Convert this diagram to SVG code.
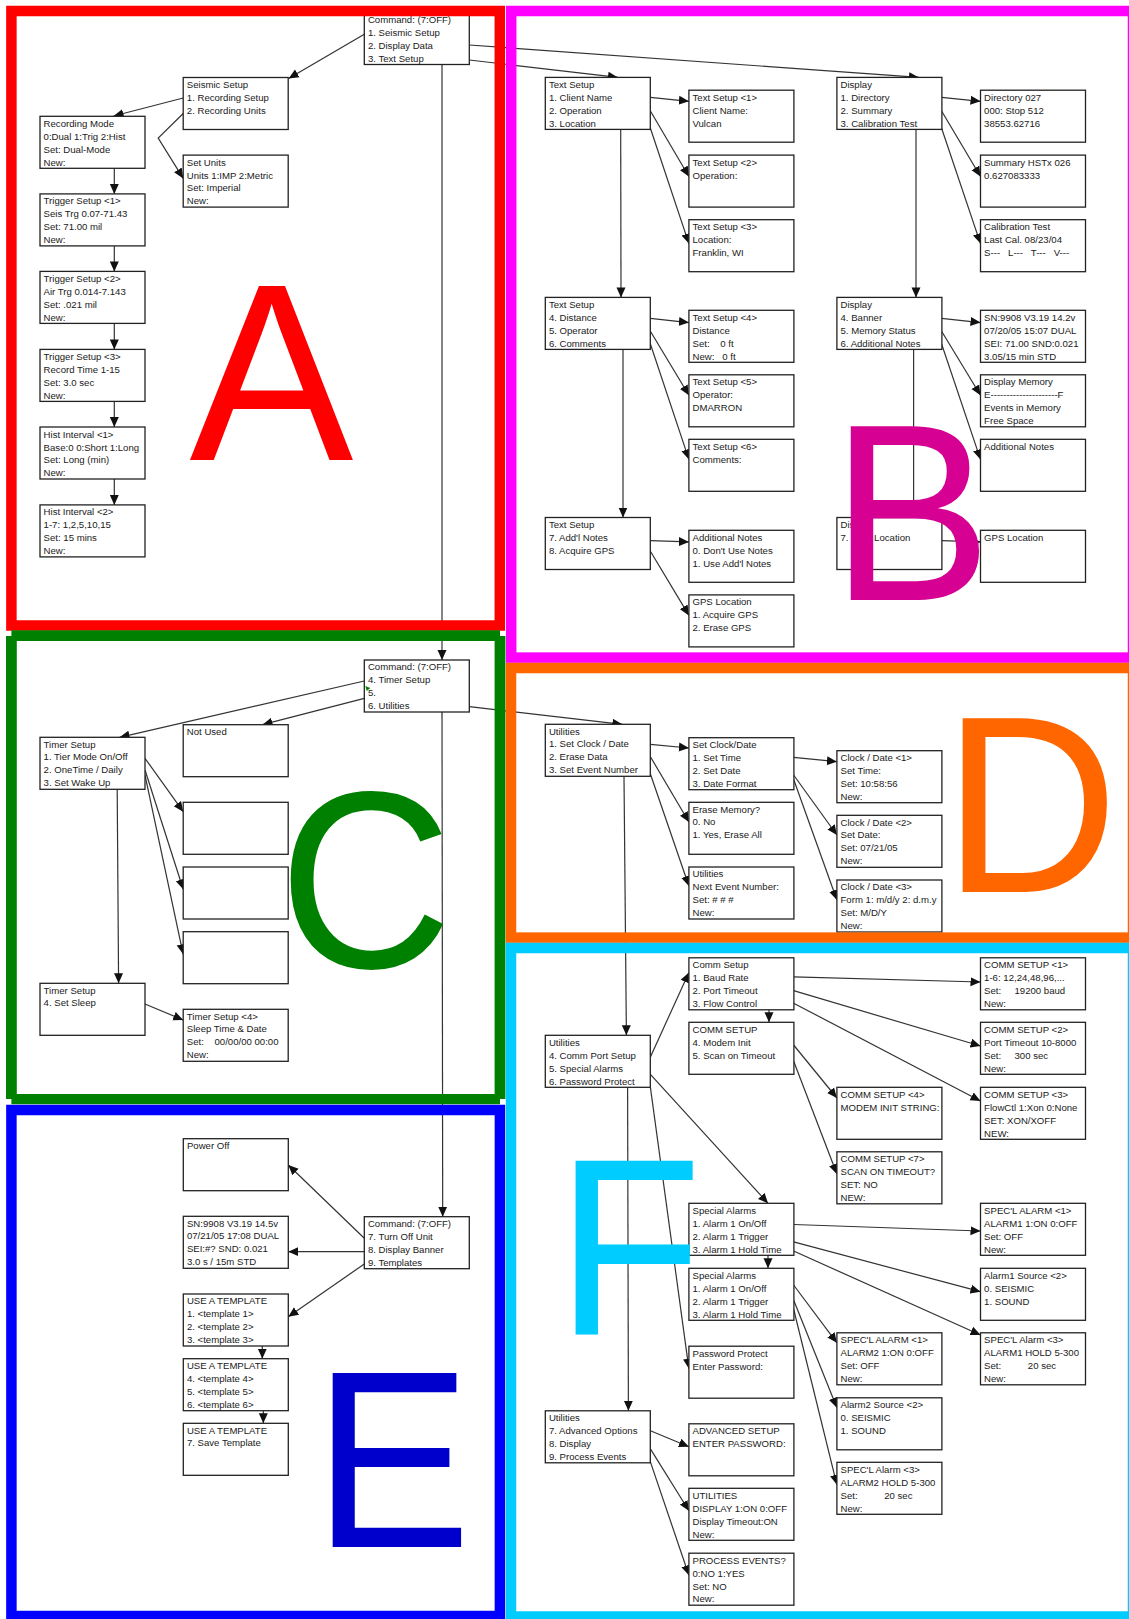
<svg xmlns="http://www.w3.org/2000/svg" width="1129" height="1619" viewBox="0 0 1129 1619">
<style>
text{font-family:"Liberation Sans",Arial,sans-serif}
.n rect{fill:#fff;stroke:#222;stroke-width:1.3}
.n text{font-size:9.6px;fill:#1a1a1a;white-space:pre}
#connectors line,#connectors polyline{fill:none;stroke:#333;stroke-width:1.2;marker-end:url(#a)}
.f{fill:none;stroke-width:10.5}
.l{font-size:252px}
</style>
<defs>
<marker id="a" markerUnits="userSpaceOnUse" markerWidth="11" markerHeight="10" refX="10" refY="5" orient="auto"><path d="M0 0.500L10 5L0 9.500z" fill="#111"/></marker>
</defs>
<rect width="1129" height="1619" fill="#fff"/>
<g id="connectors">
<line x1="364.3" y1="34.3" x2="288.6" y2="78.4"/>
<line x1="183.2" y1="98" x2="113.6" y2="116"/>
<polyline points="183.2,113.5 158.2,138 183.2,178.4"/>
<line x1="114.3" y1="168.2" x2="114.3" y2="193.9"/>
<line x1="114.3" y1="246" x2="114.3" y2="271.4"/>
<line x1="114.3" y1="323.7" x2="114.3" y2="349.4"/>
<line x1="114.3" y1="401.5" x2="114.3" y2="427"/>
<line x1="114.3" y1="479" x2="114.3" y2="504.9"/>
<line x1="442" y1="64.5" x2="442" y2="660"/>
<line x1="469.3" y1="60" x2="618" y2="77.4"/>
<line x1="469.3" y1="45" x2="919" y2="77.4"/>
<line x1="650.4" y1="97.4" x2="688.9" y2="101.3"/>
<line x1="650.4" y1="111" x2="688.9" y2="176.5"/>
<line x1="650.4" y1="128.2" x2="688.9" y2="243.6"/>
<line x1="941.6" y1="97.4" x2="980.5" y2="101.3"/>
<line x1="941.6" y1="111" x2="980.5" y2="176.5"/>
<line x1="941.6" y1="128.2" x2="980.5" y2="243.6"/>
<line x1="620.7" y1="129.5" x2="621" y2="297.4"/>
<line x1="916" y1="129.5" x2="916" y2="297.4"/>
<line x1="650.4" y1="318.4" x2="688.9" y2="322.6"/>
<line x1="650.4" y1="331.2" x2="688.9" y2="395.3"/>
<line x1="650.4" y1="344" x2="688.9" y2="459.4"/>
<line x1="941.6" y1="318.4" x2="980.5" y2="322.6"/>
<line x1="941.6" y1="331.2" x2="980.5" y2="395.3"/>
<line x1="941.6" y1="344" x2="980.5" y2="459.4"/>
<line x1="623" y1="349.6" x2="623" y2="517.5"/>
<line x1="913.6" y1="349.6" x2="913.6" y2="517.5"/>
<line x1="650.4" y1="540.6" x2="688.9" y2="541.9"/>
<line x1="650.4" y1="551.3" x2="688.9" y2="615.4"/>
<line x1="941.6" y1="540.6" x2="980.5" y2="541.9"/>
<line x1="364.3" y1="681" x2="119.6" y2="737.3"/>
<line x1="364.3" y1="698.3" x2="262.5" y2="724.7"/>
<line x1="145" y1="758.3" x2="183.2" y2="811.7"/>
<line x1="145" y1="770" x2="183.2" y2="889.3"/>
<line x1="145" y1="775" x2="183.2" y2="954.3"/>
<line x1="117.2" y1="789.3" x2="118.6" y2="983.3"/>
<line x1="145" y1="1004" x2="183.2" y2="1020"/>
<line x1="469.3" y1="706.7" x2="622.3" y2="724.3"/>
<line x1="442" y1="711.7" x2="442.7" y2="1216.7"/>
<line x1="364.3" y1="1238.3" x2="288.3" y2="1165"/>
<line x1="364.3" y1="1251.7" x2="288.3" y2="1251.7"/>
<line x1="364.3" y1="1264" x2="288.3" y2="1316.7"/>
<line x1="262.3" y1="1346" x2="262.3" y2="1358.7"/>
<line x1="263.3" y1="1410.7" x2="263.3" y2="1423.3"/>
<line x1="650.4" y1="744.3" x2="688.9" y2="748"/>
<line x1="650.4" y1="756.7" x2="688.9" y2="822"/>
<line x1="650.4" y1="774" x2="688.9" y2="886"/>
<line x1="793.6" y1="757.3" x2="836.9" y2="761.7"/>
<line x1="793.6" y1="775" x2="836.9" y2="835"/>
<line x1="793.6" y1="779.3" x2="836.9" y2="900"/>
<line x1="624" y1="776.7" x2="626.4" y2="1035.3"/>
<line x1="650.4" y1="1057" x2="688.9" y2="972.5"/>
<line x1="650.4" y1="1074.3" x2="768" y2="1203.3"/>
<line x1="650.4" y1="1087.3" x2="688.9" y2="1368.8"/>
<line x1="627.6" y1="1087.3" x2="628.4" y2="1410.8"/>
<line x1="793.6" y1="976.8" x2="980.5" y2="982"/>
<line x1="793.6" y1="990.7" x2="980.5" y2="1046"/>
<line x1="793.6" y1="1003.2" x2="980.5" y2="1101"/>
<line x1="769" y1="1009.3" x2="769" y2="1022.3"/>
<line x1="793.6" y1="1045" x2="836.9" y2="1098"/>
<line x1="793.6" y1="1061" x2="836.9" y2="1174"/>
<line x1="793.6" y1="1224.5" x2="980.5" y2="1231"/>
<line x1="793.6" y1="1241.9" x2="980.5" y2="1291.7"/>
<line x1="793.6" y1="1251" x2="980.5" y2="1335"/>
<line x1="768" y1="1255.3" x2="768" y2="1268.3"/>
<line x1="793.6" y1="1285" x2="836.9" y2="1342.8"/>
<line x1="793.6" y1="1300" x2="836.9" y2="1407.7"/>
<line x1="793.6" y1="1309" x2="836.9" y2="1484.8"/>
<line x1="650.4" y1="1430.7" x2="688.9" y2="1446.7"/>
<line x1="650.4" y1="1448.9" x2="688.9" y2="1510.8"/>
<line x1="650.4" y1="1461.9" x2="688.9" y2="1575.3"/>
</g>
<g id="nodes">
<g class="n" id="cmd1" transform="translate(364.3,12.5)"><rect width="105" height="52"/><text x="3.6" y="10.6">Command: (7:OFF)<tspan x="3.6" dy="12.9">1. Seismic Setup</tspan><tspan x="3.6" dy="12.9">2. Display Data</tspan><tspan x="3.6" dy="12.9">3. Text Setup</tspan></text></g>
<g class="n" id="seismic" transform="translate(183.2,77.5)"><rect width="105" height="52"/><text x="3.6" y="10.6">Seismic Setup<tspan x="3.6" dy="12.9">1. Recording Setup</tspan><tspan x="3.6" dy="12.9">2. Recording Units</tspan></text></g>
<g class="n" id="recmode" transform="translate(40,116.3)"><rect width="105" height="52"/><text x="3.6" y="10.6">Recording Mode<tspan x="3.6" dy="12.9">0:Dual 1:Trig 2:Hist</tspan><tspan x="3.6" dy="12.9">Set: Dual-Mode</tspan><tspan x="3.6" dy="12.9">New:</tspan></text></g>
<g class="n" id="setunits" transform="translate(183.2,155.1)"><rect width="105" height="52"/><text x="3.6" y="10.6">Set Units<tspan x="3.6" dy="12.9">Units 1:IMP 2:Metric</tspan><tspan x="3.6" dy="12.9">Set: Imperial</tspan><tspan x="3.6" dy="12.9">New:</tspan></text></g>
<g class="n" id="trig1" transform="translate(40,193.9)"><rect width="105" height="52"/><text x="3.6" y="10.6">Trigger Setup &lt;1&gt;<tspan x="3.6" dy="12.9">Seis Trg 0.07-71.43</tspan><tspan x="3.6" dy="12.9">Set: 71.00 mil</tspan><tspan x="3.6" dy="12.9">New:</tspan></text></g>
<g class="n" id="trig2" transform="translate(40,271.4)"><rect width="105" height="52"/><text x="3.6" y="10.6">Trigger Setup &lt;2&gt;<tspan x="3.6" dy="12.9">Air Trg 0.014-7.143</tspan><tspan x="3.6" dy="12.9">Set: .021 mil</tspan><tspan x="3.6" dy="12.9">New:</tspan></text></g>
<g class="n" id="trig3" transform="translate(40,349.4)"><rect width="105" height="52"/><text x="3.6" y="10.6">Trigger Setup &lt;3&gt;<tspan x="3.6" dy="12.9">Record Time 1-15</tspan><tspan x="3.6" dy="12.9">Set: 3.0 sec</tspan><tspan x="3.6" dy="12.9">New:</tspan></text></g>
<g class="n" id="hist1" transform="translate(40,427)"><rect width="105" height="52"/><text x="3.6" y="10.6">Hist Interval &lt;1&gt;<tspan x="3.6" dy="12.9">Base:0 0:Short 1:Long</tspan><tspan x="3.6" dy="12.9">Set: Long (min)</tspan><tspan x="3.6" dy="12.9">New:</tspan></text></g>
<g class="n" id="hist2" transform="translate(40,504.9)"><rect width="105" height="52"/><text x="3.6" y="10.6">Hist Interval &lt;2&gt;<tspan x="3.6" dy="12.9">1-7: 1,2,5,10,15</tspan><tspan x="3.6" dy="12.9">Set: 15 mins</tspan><tspan x="3.6" dy="12.9">New:</tspan></text></g>

<g class="n" id="text1" transform="translate(545.3,77.4)"><rect width="105" height="52"/><text x="3.6" y="10.6">Text Setup<tspan x="3.6" dy="12.9">1. Client Name</tspan><tspan x="3.6" dy="12.9">2. Operation</tspan><tspan x="3.6" dy="12.9">3. Location</tspan></text></g>
<g class="n" id="ts1" transform="translate(688.9,90.2)"><rect width="105" height="52"/><text x="3.6" y="10.6">Text Setup &lt;1&gt;<tspan x="3.6" dy="12.9">Client Name:</tspan><tspan x="3.6" dy="12.9">Vulcan</tspan></text></g>
<g class="n" id="ts2" transform="translate(688.9,155.1)"><rect width="105" height="52"/><text x="3.6" y="10.6">Text Setup &lt;2&gt;<tspan x="3.6" dy="12.9">Operation:</tspan></text></g>
<g class="n" id="ts3" transform="translate(688.9,219.7)"><rect width="105" height="52"/><text x="3.6" y="10.6">Text Setup &lt;3&gt;<tspan x="3.6" dy="12.9">Location:</tspan><tspan x="3.6" dy="12.9">Franklin, WI</tspan></text></g>
<g class="n" id="disp1" transform="translate(836.9,77.4)"><rect width="105" height="52"/><text x="3.6" y="10.6">Display<tspan x="3.6" dy="12.9">1. Directory</tspan><tspan x="3.6" dy="12.9">2. Summary</tspan><tspan x="3.6" dy="12.9">3. Calibration Test</tspan></text></g>
<g class="n" id="dir" transform="translate(980.5,90.2)"><rect width="105" height="52"/><text x="3.6" y="10.6">Directory 027<tspan x="3.6" dy="12.9">000: Stop 512</tspan><tspan x="3.6" dy="12.9">38553.62716</tspan></text></g>
<g class="n" id="summary" transform="translate(980.5,155.1)"><rect width="105" height="52"/><text x="3.6" y="10.6">Summary HSTx 026<tspan x="3.6" dy="12.9">0.627083333</tspan></text></g>
<g class="n" id="calib" transform="translate(980.5,219.7)"><rect width="105" height="52"/><text x="3.6" y="10.6">Calibration Test<tspan x="3.6" dy="12.9">Last Cal. 08/23/04</tspan><tspan x="3.6" dy="12.9">S---   L---   T---   V---</tspan></text></g>
<g class="n" id="text2" transform="translate(545.3,297.4)"><rect width="105" height="52"/><text x="3.6" y="10.6">Text Setup<tspan x="3.6" dy="12.9">4. Distance</tspan><tspan x="3.6" dy="12.9">5. Operator</tspan><tspan x="3.6" dy="12.9">6. Comments</tspan></text></g>
<g class="n" id="ts4" transform="translate(688.9,310.3)"><rect width="105" height="52"/><text x="3.6" y="10.6">Text Setup &lt;4&gt;<tspan x="3.6" dy="12.9">Distance</tspan><tspan x="3.6" dy="12.9">Set:    0 ft</tspan><tspan x="3.6" dy="12.9">New:   0 ft</tspan></text></g>
<g class="n" id="ts5" transform="translate(688.9,374.8)"><rect width="105" height="52"/><text x="3.6" y="10.6">Text Setup &lt;5&gt;<tspan x="3.6" dy="12.9">Operator:</tspan><tspan x="3.6" dy="12.9">DMARRON</tspan></text></g>
<g class="n" id="ts6" transform="translate(688.9,439.3)"><rect width="105" height="52"/><text x="3.6" y="10.6">Text Setup &lt;6&gt;<tspan x="3.6" dy="12.9">Comments:</tspan></text></g>
<g class="n" id="disp2" transform="translate(836.9,297.4)"><rect width="105" height="52"/><text x="3.6" y="10.6">Display<tspan x="3.6" dy="12.9">4. Banner</tspan><tspan x="3.6" dy="12.9">5. Memory Status</tspan><tspan x="3.6" dy="12.9">6. Additional Notes</tspan></text></g>
<g class="n" id="banner" transform="translate(980.5,310.3)"><rect width="105" height="52"/><text x="3.6" y="10.6">SN:9908 V3.19 14.2v<tspan x="3.6" dy="12.9">07/20/05 15:07 DUAL</tspan><tspan x="3.6" dy="12.9">SEI: 71.00 SND:0.021</tspan><tspan x="3.6" dy="12.9">3.05/15 min STD</tspan></text></g>
<g class="n" id="dispmem" transform="translate(980.5,374.8)"><rect width="105" height="52"/><text x="3.6" y="10.6">Display Memory<tspan x="3.6" dy="12.9">E---------------------F</tspan><tspan x="3.6" dy="12.9">Events in Memory</tspan><tspan x="3.6" dy="12.9">Free Space</tspan></text></g>
<g class="n" id="addnotes" transform="translate(980.5,439.3)"><rect width="105" height="52"/><text x="3.6" y="10.6">Additional Notes</text></g>
<g class="n" id="text3" transform="translate(545.3,517.5)"><rect width="105" height="52"/><text x="3.6" y="10.6">Text Setup<tspan x="3.6" dy="12.9">7. Add'l Notes</tspan><tspan x="3.6" dy="12.9">8. Acquire GPS</tspan></text></g>
<g class="n" id="addl" transform="translate(688.9,530.3)"><rect width="105" height="52"/><text x="3.6" y="10.6">Additional Notes<tspan x="3.6" dy="12.9">0. Don't Use Notes</tspan><tspan x="3.6" dy="12.9">1. Use Add'l Notes</tspan></text></g>
<g class="n" id="gpsloc" transform="translate(688.9,594.9)"><rect width="105" height="52"/><text x="3.6" y="10.6">GPS Location<tspan x="3.6" dy="12.9">1. Acquire GPS</tspan><tspan x="3.6" dy="12.9">2. Erase GPS</tspan></text></g>
<g class="n" id="disp3" transform="translate(836.9,517.5)"><rect width="105" height="52"/><text x="3.6" y="10.6">Display<tspan x="3.6" dy="12.9">7. GPS Location</tspan></text></g>
<g class="n" id="gpsloc2" transform="translate(980.5,530.3)"><rect width="105" height="52"/><text x="3.6" y="10.6">GPS Location</text></g>

<g class="n" id="cmd2" transform="translate(364.3,660)"><rect width="105" height="52"/><text x="3.6" y="10.3">Command: (7:OFF)<tspan x="3.6" dy="12.9">4. Timer Setup</tspan><tspan x="3.6" dy="12.9">5.</tspan><tspan x="3.6" dy="12.9">6. Utilities</tspan></text><path d="M1 26L6 28L2.500 31z" fill="#008000"/></g>
<g class="n" id="timer1" transform="translate(40,737.3)"><rect width="105" height="52"/><text x="3.6" y="10.3">Timer Setup<tspan x="3.6" dy="12.9">1. Tier Mode On/Off</tspan><tspan x="3.6" dy="12.9">2. OneTime / Daily</tspan><tspan x="3.6" dy="12.9">3. Set Wake Up</tspan></text></g>
<g class="n" id="notused" transform="translate(183.2,724.7)"><rect width="105" height="52"/><text x="3.6" y="10.3">Not Used</text></g>
<g class="n" id="empty1" transform="translate(183.2,802.3)"><rect width="105" height="52"/></g>
<g class="n" id="empty2" transform="translate(183.2,867)"><rect width="105" height="52"/></g>
<g class="n" id="empty3" transform="translate(183.2,931.7)"><rect width="105" height="52"/></g>
<g class="n" id="timer2" transform="translate(40,983.3)"><rect width="105" height="52"/><text x="3.6" y="10.3">Timer Setup<tspan x="3.6" dy="12.9">4. Set Sleep</tspan></text></g>
<g class="n" id="timer4" transform="translate(183.2,1009.3)"><rect width="105" height="52"/><text x="3.6" y="10.3">Timer Setup &lt;4&gt;<tspan x="3.6" dy="12.9">Sleep Time &amp; Date</tspan><tspan x="3.6" dy="12.9">Set:    00/00/00 00:00</tspan><tspan x="3.6" dy="12.9">New:</tspan></text></g>

<g class="n" id="util1" transform="translate(545.3,724.3)"><rect width="105" height="52"/><text x="3.6" y="10.3">Utilities<tspan x="3.6" dy="12.9">1. Set Clock / Date</tspan><tspan x="3.6" dy="12.9">2. Erase Data</tspan><tspan x="3.6" dy="12.9">3. Set Event Number</tspan></text></g>
<g class="n" id="setclock" transform="translate(688.9,737.7)"><rect width="105" height="52"/><text x="3.6" y="10.3">Set Clock/Date<tspan x="3.6" dy="12.9">1. Set Time</tspan><tspan x="3.6" dy="12.9">2. Set Date</tspan><tspan x="3.6" dy="12.9">3. Date Format</tspan></text></g>
<g class="n" id="erase" transform="translate(688.9,802.3)"><rect width="105" height="52"/><text x="3.6" y="10.3">Erase Memory?<tspan x="3.6" dy="12.9">0. No</tspan><tspan x="3.6" dy="12.9">1. Yes, Erase All</tspan></text></g>
<g class="n" id="nextevent" transform="translate(688.9,867)"><rect width="105" height="52"/><text x="3.6" y="10.3">Utilities<tspan x="3.6" dy="12.9">Next Event Number:</tspan><tspan x="3.6" dy="12.9">Set: # # #</tspan><tspan x="3.6" dy="12.9">New:</tspan></text></g>
<g class="n" id="clock1" transform="translate(836.9,750.7)"><rect width="105" height="52"/><text x="3.6" y="10.3">Clock / Date &lt;1&gt;<tspan x="3.6" dy="12.9">Set Time:</tspan><tspan x="3.6" dy="12.9">Set: 10:58:56</tspan><tspan x="3.6" dy="12.9">New:</tspan></text></g>
<g class="n" id="clock2" transform="translate(836.9,815.3)"><rect width="105" height="52"/><text x="3.6" y="10.3">Clock / Date &lt;2&gt;<tspan x="3.6" dy="12.9">Set Date:</tspan><tspan x="3.6" dy="12.9">Set: 07/21/05</tspan><tspan x="3.6" dy="12.9">New:</tspan></text></g>
<g class="n" id="clock3" transform="translate(836.9,880)"><rect width="105" height="52"/><text x="3.6" y="10.3">Clock / Date &lt;3&gt;<tspan x="3.6" dy="12.9">Form 1: m/d/y 2: d.m.y</tspan><tspan x="3.6" dy="12.9">Set: M/D/Y</tspan><tspan x="3.6" dy="12.9">New:</tspan></text></g>

<g class="n" id="cmd3" transform="translate(364.3,1216.7)"><rect width="105" height="52"/><text x="3.6" y="10.3">Command: (7:OFF)<tspan x="3.6" dy="12.9">7. Turn Off Unit</tspan><tspan x="3.6" dy="12.9">8. Display Banner</tspan><tspan x="3.6" dy="12.9">9. Templates</tspan></text></g>
<g class="n" id="poweroff" transform="translate(183.3,1138.7)"><rect width="105" height="52"/><text x="3.6" y="10.3">Power Off</text></g>
<g class="n" id="sn" transform="translate(183.3,1216.3)"><rect width="105" height="52"/><text x="3.6" y="10.3">SN:9908 V3.19 14.5v<tspan x="3.6" dy="12.9">07/21/05 17:08 DUAL</tspan><tspan x="3.6" dy="12.9">SEI:#? SND: 0.021</tspan><tspan x="3.6" dy="12.9">3.0 s / 15m STD</tspan></text></g>
<g class="n" id="tpl1" transform="translate(183.3,1294)"><rect width="105" height="52"/><text x="3.6" y="10.3">USE A TEMPLATE<tspan x="3.6" dy="12.9">1. &lt;template 1&gt;</tspan><tspan x="3.6" dy="12.9">2. &lt;template 2&gt;</tspan><tspan x="3.6" dy="12.9">3. &lt;template 3&gt;</tspan></text></g>
<g class="n" id="tpl2" transform="translate(183.3,1358.7)"><rect width="105" height="52"/><text x="3.6" y="10.3">USE A TEMPLATE<tspan x="3.6" dy="12.9">4. &lt;template 4&gt;</tspan><tspan x="3.6" dy="12.9">5. &lt;template 5&gt;</tspan><tspan x="3.6" dy="12.9">6. &lt;template 6&gt;</tspan></text></g>
<g class="n" id="tpl3" transform="translate(183.3,1423.3)"><rect width="105" height="52"/><text x="3.6" y="10.3">USE A TEMPLATE<tspan x="3.6" dy="12.9">7. Save Template</tspan></text></g>

<g class="n" id="comm1" transform="translate(688.9,957.8)"><rect width="105" height="52"/><text x="3.6" y="10.6">Comm Setup<tspan x="3.6" dy="12.9">1. Baud Rate</tspan><tspan x="3.6" dy="12.9">2. Port Timeout</tspan><tspan x="3.6" dy="12.9">3. Flow Control</tspan></text></g>
<g class="n" id="comm2" transform="translate(688.9,1022.3)"><rect width="105" height="52"/><text x="3.6" y="10.6">COMM SETUP<tspan x="3.6" dy="12.9">4. Modem Init</tspan><tspan x="3.6" dy="12.9">5. Scan on Timeout</tspan></text></g>
<g class="n" id="util2" transform="translate(545.3,1035.3)"><rect width="105" height="52"/><text x="3.6" y="10.6">Utilities<tspan x="3.6" dy="12.9">4. Comm Port Setup</tspan><tspan x="3.6" dy="12.9">5. Special Alarms</tspan><tspan x="3.6" dy="12.9">6. Password Protect</tspan></text></g>
<g class="n" id="cs1" transform="translate(980.5,957.8)"><rect width="105" height="52"/><text x="3.6" y="10.6">COMM SETUP &lt;1&gt;<tspan x="3.6" dy="12.9">1-6: 12,24,48,96,...</tspan><tspan x="3.6" dy="12.9">Set:     19200 baud</tspan><tspan x="3.6" dy="12.9">New:</tspan></text></g>
<g class="n" id="cs2" transform="translate(980.5,1022.3)"><rect width="105" height="52"/><text x="3.6" y="10.6">COMM SETUP &lt;2&gt;<tspan x="3.6" dy="12.9">Port Timeout 10-8000</tspan><tspan x="3.6" dy="12.9">Set:     300 sec</tspan><tspan x="3.6" dy="12.9">New:</tspan></text></g>
<g class="n" id="cs3" transform="translate(980.5,1087.3)"><rect width="105" height="52"/><text x="3.6" y="10.6">COMM SETUP &lt;3&gt;<tspan x="3.6" dy="12.9">FlowCtl 1:Xon 0:None</tspan><tspan x="3.6" dy="12.9">SET: XON/XOFF</tspan><tspan x="3.6" dy="12.9">NEW:</tspan></text></g>
<g class="n" id="cs4" transform="translate(836.9,1087.3)"><rect width="105" height="52"/><text x="3.6" y="10.6">COMM SETUP &lt;4&gt;<tspan x="3.6" dy="12.9">MODEM INIT STRING:</tspan></text></g>
<g class="n" id="cs7" transform="translate(836.9,1151.8)"><rect width="105" height="52"/><text x="3.6" y="10.6">COMM SETUP &lt;7&gt;<tspan x="3.6" dy="12.9">SCAN ON TIMEOUT?</tspan><tspan x="3.6" dy="12.9">SET: NO</tspan><tspan x="3.6" dy="12.9">NEW:</tspan></text></g>
<g class="n" id="sa1" transform="translate(688.9,1203.3)"><rect width="105" height="52"/><text x="3.6" y="10.6">Special Alarms<tspan x="3.6" dy="12.9">1. Alarm 1 On/Off</tspan><tspan x="3.6" dy="12.9">2. Alarm 1 Trigger</tspan><tspan x="3.6" dy="12.9">3. Alarm 1 Hold Time</tspan></text></g>
<g class="n" id="sa2" transform="translate(688.9,1268.3)"><rect width="105" height="52"/><text x="3.6" y="10.6">Special Alarms<tspan x="3.6" dy="12.9">1. Alarm 1 On/Off</tspan><tspan x="3.6" dy="12.9">2. Alarm 1 Trigger</tspan><tspan x="3.6" dy="12.9">3. Alarm 1 Hold Time</tspan></text></g>
<g class="n" id="pwd" transform="translate(688.9,1346.2)"><rect width="105" height="52"/><text x="3.6" y="10.6">Password Protect<tspan x="3.6" dy="12.9">Enter Password:</tspan></text></g>
<g class="n" id="a1s1" transform="translate(980.5,1203.3)"><rect width="105" height="52"/><text x="3.6" y="10.6">SPEC'L ALARM &lt;1&gt;<tspan x="3.6" dy="12.9">ALARM1 1:ON 0:OFF</tspan><tspan x="3.6" dy="12.9">Set: OFF</tspan><tspan x="3.6" dy="12.9">New:</tspan></text></g>
<g class="n" id="a1s2" transform="translate(980.5,1268.3)"><rect width="105" height="52"/><text x="3.6" y="10.6">Alarm1 Source &lt;2&gt;<tspan x="3.6" dy="12.9">0. SEISMIC</tspan><tspan x="3.6" dy="12.9">1. SOUND</tspan></text></g>
<g class="n" id="a1s3" transform="translate(980.5,1332.8)"><rect width="105" height="52"/><text x="3.6" y="10.6">SPEC'L Alarm &lt;3&gt;<tspan x="3.6" dy="12.9">ALARM1 HOLD 5-300</tspan><tspan x="3.6" dy="12.9">Set:          20 sec</tspan><tspan x="3.6" dy="12.9">New:</tspan></text></g>
<g class="n" id="a2s1" transform="translate(836.9,1332.8)"><rect width="105" height="52"/><text x="3.6" y="10.6">SPEC'L ALARM &lt;1&gt;<tspan x="3.6" dy="12.9">ALARM2 1:ON 0:OFF</tspan><tspan x="3.6" dy="12.9">Set: OFF</tspan><tspan x="3.6" dy="12.9">New:</tspan></text></g>
<g class="n" id="a2s2" transform="translate(836.9,1397.8)"><rect width="105" height="52"/><text x="3.6" y="10.6">Alarm2 Source &lt;2&gt;<tspan x="3.6" dy="12.9">0. SEISMIC</tspan><tspan x="3.6" dy="12.9">1. SOUND</tspan></text></g>
<g class="n" id="a2s3" transform="translate(836.9,1462.3)"><rect width="105" height="52"/><text x="3.6" y="10.6">SPEC'L Alarm &lt;3&gt;<tspan x="3.6" dy="12.9">ALARM2 HOLD 5-300</tspan><tspan x="3.6" dy="12.9">Set:          20 sec</tspan><tspan x="3.6" dy="12.9">New:</tspan></text></g>
<g class="n" id="util3" transform="translate(545.3,1410.8)"><rect width="105" height="52"/><text x="3.6" y="10.6">Utilities<tspan x="3.6" dy="12.9">7. Advanced Options</tspan><tspan x="3.6" dy="12.9">8. Display</tspan><tspan x="3.6" dy="12.9">9. Process Events</tspan></text></g>
<g class="n" id="adv" transform="translate(688.9,1423.8)"><rect width="105" height="52"/><text x="3.6" y="10.6">ADVANCED SETUP<tspan x="3.6" dy="12.9">ENTER PASSWORD:</tspan></text></g>
<g class="n" id="utildisp" transform="translate(688.9,1488.3)"><rect width="105" height="52"/><text x="3.6" y="10.6">UTILITIES<tspan x="3.6" dy="12.9">DISPLAY 1:ON 0:OFF</tspan><tspan x="3.6" dy="12.9">Display Timeout:ON</tspan><tspan x="3.6" dy="12.9">New:</tspan></text></g>
<g class="n" id="process" transform="translate(688.9,1553.2)"><rect width="105" height="52"/><text x="3.6" y="10.6">PROCESS EVENTS?<tspan x="3.6" dy="12.9">0:NO 1:YES</tspan><tspan x="3.6" dy="12.9">Set: NO</tspan><tspan x="3.6" dy="12.9">New:</tspan></text></g>
</g>
<g id="frames">
<rect class="f" stroke="#f00" x="11.4" y="11" width="488.4" height="614.5"/>
<rect class="f" stroke="#f0f" x="511.2" y="11" width="621.8" height="646.6"/>
<path fill="#008000" fill-rule="evenodd" d="M11.400 630.300H500V636H505.400V1099H500V1104.300H11.400V1099H6V636H11.400Z M16.800 641V1094H494.600V641Z"/>
<rect class="f" stroke="#f60" x="511" y="668" width="622" height="269.600"/>
<rect class="f" stroke="#0cf" x="511" y="948" width="622" height="668.500"/>
<rect class="f" stroke="#00f" x="11.400" y="1110" width="488.500" height="506"/>
</g>
<g id="letters">
<text class="l" transform="translate(189.500,460.400) scale(.975,1)" fill="#f00">A</text>
<text class="l" transform="translate(831,600.400) scale(.956,1)" fill="#d60093">B</text>
<text class="l" transform="translate(278.600,967.500) scale(.955,1)" fill="#008000">C</text>
<text class="l" transform="translate(942.700,892) scale(.966,1)" fill="#f60">D</text>
<text class="l" transform="translate(313.200,1547) scale(.94,1)" fill="#00c">E</text>
<text class="l" transform="translate(556,1334) scale(.95,1)" fill="#0cf">F</text>
</g>
</svg>
